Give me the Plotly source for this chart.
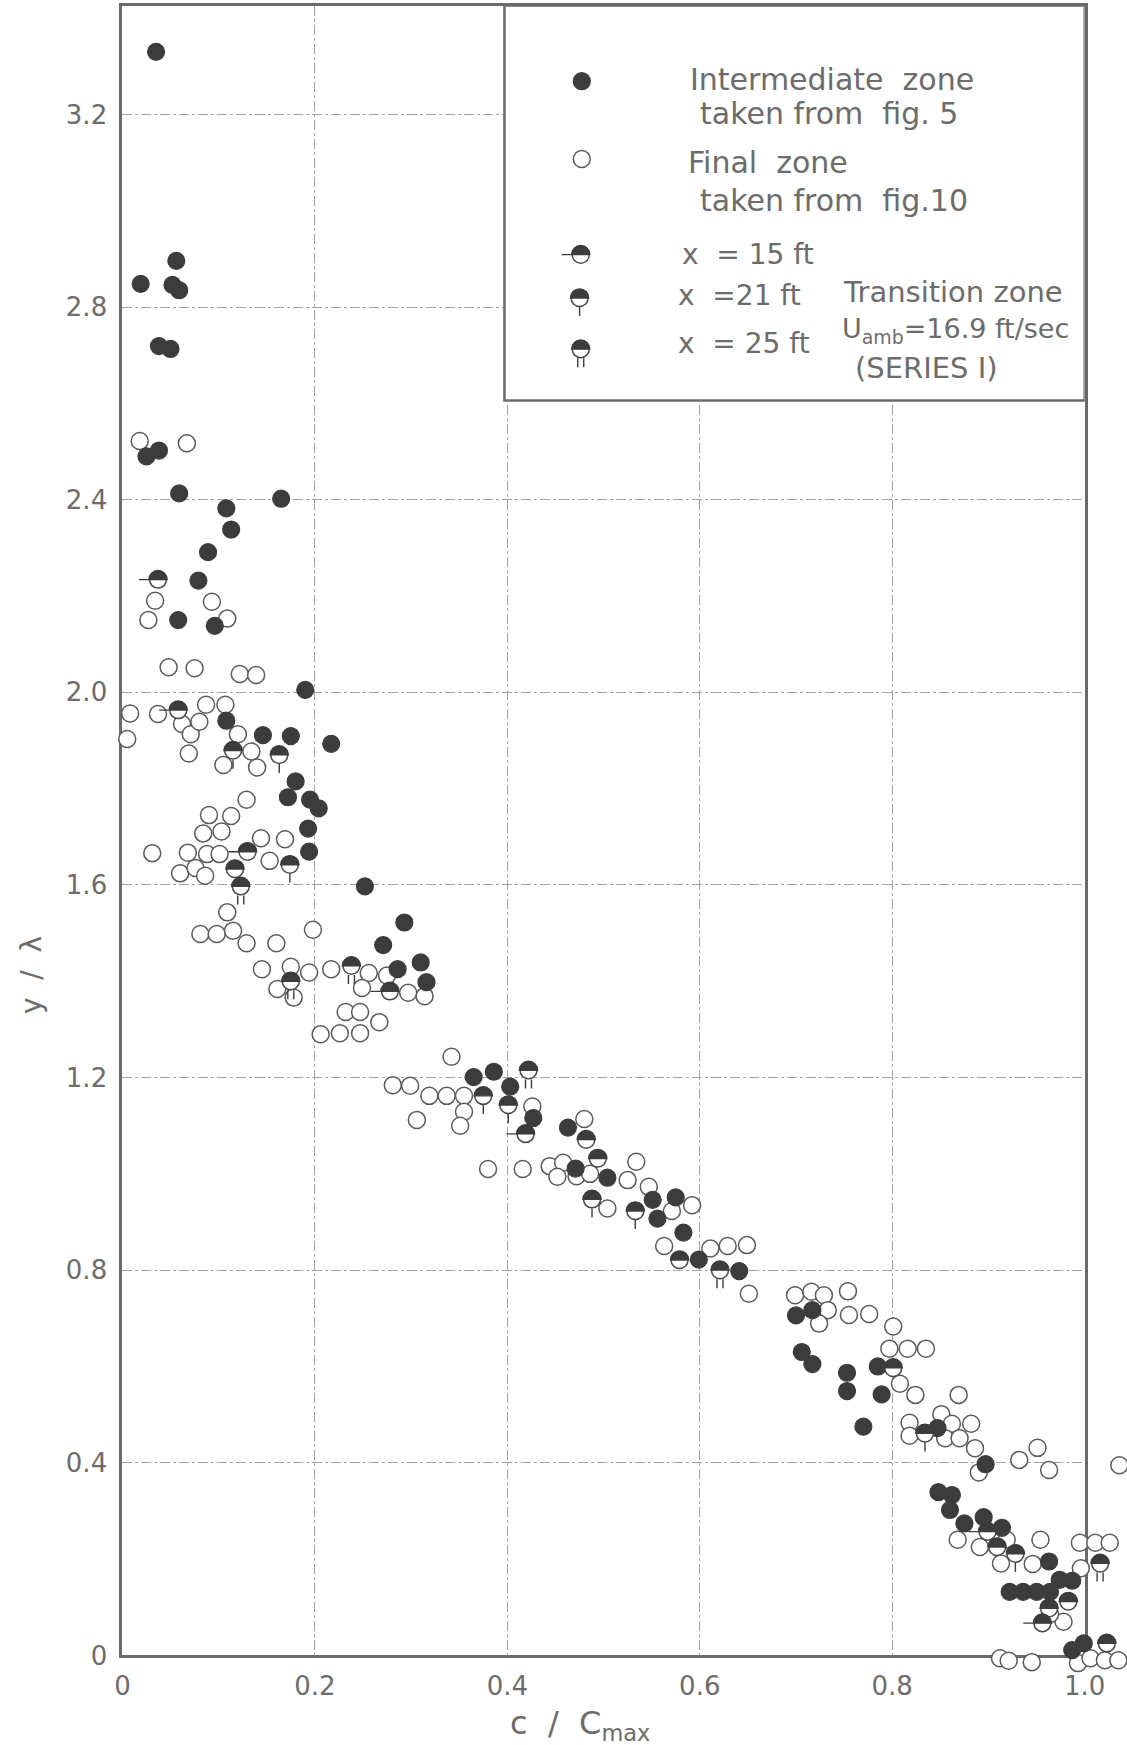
import plotly.graph_objects as go

# ------------------------------------------------------------------ data
# Intermediate zone (taken from fig. 5) -- filled circles
intermediate_x = [0.035, 0.019, 0.056, 0.052, 0.059, 0.038, 0.050, 0.025, 0.038, 0.059,
                  0.108, 0.165, 0.113, 0.089, 0.079, 0.058, 0.096, 0.190, 0.108, 0.146,
                  0.175, 0.217, 0.180, 0.172, 0.195, 0.204, 0.193, 0.194, 0.252, 0.293,
                  0.271, 0.286, 0.310, 0.316, 0.365, 0.386, 0.403, 0.427, 0.463, 0.471,
                  0.504, 0.551, 0.575, 0.556, 0.583, 0.599, 0.641, 0.700, 0.717, 0.706,
                  0.717, 0.753, 0.753, 0.770, 0.785, 0.789, 0.847, 0.897, 0.848, 0.862,
                  0.860, 0.875, 0.895, 0.914, 0.963, 0.922, 0.936, 0.950, 0.964, 0.974,
                  0.987, 0.987, 0.999]
intermediate_y = [3.330, 2.848, 2.896, 2.846, 2.835, 2.719, 2.713, 2.490, 2.502, 2.413,
                  2.382, 2.402, 2.338, 2.291, 2.232, 2.150, 2.138, 2.005, 1.941, 1.911,
                  1.909, 1.893, 1.815, 1.782, 1.777, 1.759, 1.717, 1.669, 1.597, 1.522,
                  1.475, 1.425, 1.439, 1.398, 1.201, 1.212, 1.181, 1.116, 1.096, 1.011,
                  0.992, 0.946, 0.951, 0.907, 0.878, 0.822, 0.798, 0.706, 0.717, 0.630,
                  0.605, 0.587, 0.549, 0.475, 0.600, 0.542, 0.472, 0.397, 0.339, 0.333,
                  0.302, 0.274, 0.287, 0.265, 0.195, 0.132, 0.132, 0.132, 0.132, 0.157,
                  0.155, 0.011, 0.025]

# Final zone (taken from fig. 10) -- open circles
final_x = [0.018, 0.067, 0.034, 0.027, 0.093, 0.109, 0.048, 0.075, 0.122, 0.139,
           0.008, 0.005, 0.037, 0.062, 0.071, 0.080, 0.087, 0.107, 0.120, 0.069,
           0.134, 0.105, 0.140, 0.129, 0.090, 0.113, 0.084, 0.103, 0.144, 0.169,
           0.031, 0.068, 0.088, 0.101, 0.153, 0.060, 0.076, 0.086, 0.109, 0.081,
           0.098, 0.115, 0.129, 0.160, 0.198, 0.145, 0.175, 0.194, 0.217, 0.256,
           0.275, 0.161, 0.178, 0.249, 0.297, 0.314, 0.232, 0.247, 0.267, 0.206,
           0.226, 0.247, 0.342, 0.281, 0.299, 0.319, 0.337, 0.355, 0.355, 0.351,
           0.306, 0.426, 0.480, 0.380, 0.416, 0.444, 0.458, 0.452, 0.472, 0.486,
           0.525, 0.534, 0.547, 0.571, 0.592, 0.504, 0.563, 0.611, 0.629, 0.649,
           0.651, 0.699, 0.716, 0.729, 0.754, 0.733, 0.755, 0.776, 0.724, 0.801,
           0.797, 0.816, 0.835, 0.808, 0.824, 0.869, 0.818, 0.818, 0.851, 0.862,
           0.855, 0.870, 0.882, 0.886, 0.890, 0.932, 0.951, 0.963, 1.036, 0.868,
           0.891, 0.919, 0.913, 0.946, 0.954, 0.995, 1.011, 1.026, 0.996, 0.978,
           0.964, 0.912, 0.921, 0.945, 0.993, 1.006, 1.021, 1.035]
final_y = [2.522, 2.517, 2.190, 2.150, 2.188, 2.153, 2.052, 2.050, 2.038, 2.036,
           1.956, 1.903, 1.955, 1.934, 1.913, 1.939, 1.974, 1.974, 1.913, 1.873,
           1.877, 1.849, 1.844, 1.777, 1.745, 1.743, 1.707, 1.711, 1.697, 1.695,
           1.666, 1.667, 1.664, 1.664, 1.650, 1.624, 1.635, 1.619, 1.543, 1.498,
           1.498, 1.505, 1.479, 1.479, 1.507, 1.425, 1.430, 1.418, 1.425, 1.417,
           1.412, 1.384, 1.366, 1.386, 1.376, 1.369, 1.336, 1.336, 1.315, 1.290,
           1.292, 1.292, 1.243, 1.184, 1.183, 1.162, 1.162, 1.162, 1.129, 1.100,
           1.112, 1.140, 1.114, 1.010, 1.010, 1.016, 1.023, 0.994, 0.995, 1.000,
           0.987, 1.025, 0.973, 0.923, 0.935, 0.928, 0.850, 0.845, 0.850, 0.852,
           0.751, 0.748, 0.755, 0.748, 0.756, 0.717, 0.707, 0.709, 0.689, 0.683,
           0.637, 0.637, 0.637, 0.564, 0.541, 0.541, 0.483, 0.456, 0.501, 0.481,
           0.451, 0.451, 0.481, 0.430, 0.380, 0.406, 0.431, 0.385, 0.395, 0.240,
           0.225, 0.240, 0.191, 0.190, 0.240, 0.234, 0.234, 0.234, 0.181, 0.070,
           0.086, -0.006, -0.011, -0.014, -0.016, -0.006, -0.010, -0.010]

# Transition zone, U_amb = 16.9 ft/sec (Series I) -- half-filled circles
trans15_x = [0.037, 0.058, 0.130, 0.278, 0.419, 0.801, 0.899, 0.956]   # x = 15 ft
trans15_y = [2.234, 1.963, 1.669, 1.379, 1.083, 0.597, 0.257, 0.067]
trans21_x = [0.115, 0.163, 0.174, 0.375, 0.401, 0.488, 0.533, 0.834, 0.928]  # x = 21 ft
trans21_y = [1.879, 1.870, 1.642, 1.162, 1.143, 0.947, 0.923, 0.461, 0.211]
trans25_x = [0.123, 0.175, 0.238, 0.422, 0.621, 1.016]   # x = 25 ft
trans25_y = [1.597, 1.400, 1.432, 1.215, 0.800, 0.191]
# transition points whose station tag is hidden by neighbouring symbols
trans_unmarked_x = [0.117, 0.482, 0.494, 0.579, 0.909, 0.963, 0.983, 1.023]
trans_unmarked_y = [1.633, 1.071, 1.032, 0.821, 0.225, 0.098, 0.112, 0.025]

x_tickvals = [0, 0.2, 0.4, 0.6, 0.8, 1.0]
x_ticktext = ["0", "0.2", "0.4", "0.6", "0.8", "1.0"]
y_tickvals = [0, 0.4, 0.8, 1.2, 1.6, 2.0, 2.4, 2.8, 3.2]
y_ticktext = ["0", "0.4", "0.8", "1.2", "1.6", "2.0", "2.4", "2.8", "3.2"]

# ------------------------------------------------------------------ geometry / style
W, H = 1127, 1745
X_RANGE = [0.0, 1.0]
Y_RANGE = [0.0, 3.426]
X_DOM = [122.4 / W, 1084.7 / W]
Y_DOM = [(H - 1655.4) / H, (H - 5.6) / H]


def outer_range(rng, dom):
    span = (rng[1] - rng[0]) / (dom[1] - dom[0])
    return [rng[0] - dom[0] * span, rng[1] + (1 - dom[1]) * span]


X2_RANGE = outer_range(X_RANGE, X_DOM)
Y2_RANGE = outer_range(Y_RANGE, Y_DOM)

FONT = "DejaVu Sans"
TXT = "#6c6c6c"
DARK = "#3c3c3c"
OUTL = "#5a5a5a"
GRID = "#a2a2a2"
FRAME = "#6a6a6a"
MSIZE = 17
R = 9.1


def half_path(tag):
    k = 0.5523 * R
    p = (f"M {-R:.2f} 0 C {-R:.2f} {k:.2f} {-k:.2f} {R:.2f} 0 {R:.2f} "
         f"C {k:.2f} {R:.2f} {R:.2f} {k:.2f} {R:.2f} 0 Z")
    if tag == "15":
        p += f" M {-R - 10:.2f} 0 L {-R:.2f} 0"
    elif tag == "21":
        p += f" M 0 {-R:.2f} L 0 {-R - 9:.2f}"
    elif tag == "25":
        p += f" M -3 {-R:.2f} L -3 {-R - 9:.2f} M 3 {-R:.2f} L 3 {-R - 9:.2f}"
    return p


fig = go.Figure()

open_marker = dict(symbol="circle", size=MSIZE, color="white", line=dict(color=OUTL, width=1.5))
filled_marker = dict(symbol="circle", size=MSIZE, color=DARK, line=dict(color=DARK, width=1.2))
half_marker = dict(symbol="circle", size=MSIZE, color="white", line=dict(color="#4a4a4a", width=1.5))

shapes = []

# ------------------------------------------------------------------ legend box (inside the frame)
LEG_BOX = dict(x0=0.397, x1=1.0, y0=2.606, y1=Y_RANGE[1])
shapes.append(dict(type="rect", xref="x", yref="y", **LEG_BOX, fillcolor="white",
                   line=dict(color=FRAME, width=2.5), layer="between"))

# legend keys live on the framed axes (this also makes the framed subplot exist)
leg_keys_x = [0.4774, 0.4774]
leg_keys_y = [3.269, 3.1075]
fig.add_trace(go.Scatter(x=leg_keys_x[:1], y=leg_keys_y[:1], mode="markers", marker=filled_marker,
                         xaxis="x", yaxis="y", cliponaxis=False, hoverinfo="skip"))
fig.add_trace(go.Scatter(x=leg_keys_x[1:], y=leg_keys_y[1:], mode="markers", marker=open_marker,
                         xaxis="x", yaxis="y", cliponaxis=False, hoverinfo="skip"))
leg_half = [("15", 0.4763, 2.9088), ("21", 0.4751, 2.8188), ("25", 0.4763, 2.7126)]
fig.add_trace(go.Scatter(x=[k[1] for k in leg_half], y=[k[2] for k in leg_half], mode="markers",
                         marker=half_marker, xaxis="x", yaxis="y", cliponaxis=False,
                         hoverinfo="skip"))
for tag, xv, yv in leg_half:
    shapes.append(dict(type="path", xref="x2", yref="y2", xsizemode="pixel", ysizemode="pixel",
                       xanchor=xv, yanchor=yv, path=half_path(tag), fillcolor=DARK,
                       line=dict(color=DARK, width=1.4), layer="above"))

# ------------------------------------------------------------------ data marks (unclipped overlay axes)
fig.add_trace(go.Scatter(x=final_x, y=final_y, mode="markers", marker=open_marker,
                         xaxis="x2", yaxis="y2", name="Final zone", hoverinfo="x+y"))
fig.add_trace(go.Scatter(x=intermediate_x, y=intermediate_y, mode="markers", marker=filled_marker,
                         xaxis="x2", yaxis="y2", name="Intermediate zone", hoverinfo="x+y"))

half_sets = [("15", trans15_x, trans15_y), ("21", trans21_x, trans21_y),
             ("25", trans25_x, trans25_y), ("", trans_unmarked_x, trans_unmarked_y)]
for tag, xs, ys in half_sets:
    fig.add_trace(go.Scatter(x=xs, y=ys, mode="markers", marker=half_marker,
                             xaxis="x2", yaxis="y2", name=f"x = {tag} ft", hoverinfo="x+y"))
    for xv, yv in zip(xs, ys):
        shapes.append(dict(type="path", xref="x2", yref="y2", xsizemode="pixel",
                           ysizemode="pixel", xanchor=xv, yanchor=yv, path=half_path(tag),
                           fillcolor=DARK, line=dict(color=DARK, width=1.4), layer="above"))

NB = "\u00a0"
legend_texts = [
    ("Intermediate" + NB * 2 + "zone", 688, 79, 30),
    ("taken" + NB + "from" + NB * 2 + "fig." + NB + "5", 698, 113, 30),
    ("Final" + NB * 2 + "zone", 686, 163, 30),
    ("taken" + NB + "from" + NB * 2 + "fig.10", 698, 200, 30),
    ("x" + NB * 2 + "=" + NB + "15 ft", 680, 254, 28),
    ("x" + NB * 2 + "=21 ft", 676, 296, 28),
    ("x" + NB * 2 + "=" + NB + "25 ft", 676, 344, 28),
    ("Transition zone", 841, 292, 29),
    ("U<sub>amb</sub>=16.9 ft/sec", 840, 331, 27),
    ("(SERIES" + NB + "I)", 853, 368, 29),
]
annotations = []
for txt, px, py, fs in legend_texts:
    annotations.append(dict(text=txt, x=px / W, y=1 - py / H, xref="paper", yref="paper",
                            xanchor="left", yanchor="middle", showarrow=False,
                            font=dict(family=FONT, size=fs, color=TXT)))

# axis titles
annotations.append(dict(text="y" + NB * 2 + "/" + NB * 2 + "λ", x=31 / W, y=1 - 975 / H,
                        xref="paper", yref="paper", textangle=-90, showarrow=False,
                        xanchor="center", yanchor="middle",
                        font=dict(family=FONT, size=28, color=TXT)))
annotations.append(dict(text="c" + NB * 2 + "/" + NB * 2 + "C<sub>max</sub>", x=580 / W,
                        y=1 - 1725 / H, xref="paper", yref="paper", showarrow=False,
                        xanchor="center", yanchor="middle",
                        font=dict(family=FONT, size=32, color=TXT)))

axis_common = dict(showgrid=True, gridcolor=GRID, gridwidth=1, griddash="10px,3px,3px,3px",
                   showline=True, mirror=True, linecolor=FRAME, linewidth=3, zeroline=False,
                   ticks="", tickfont=dict(family=FONT, size=26, color=TXT), fixedrange=True)

fig.update_layout(
    width=W, height=H, template="none",
    margin=dict(l=0, r=0, t=0, b=0, pad=0),
    paper_bgcolor="white", plot_bgcolor="rgba(0,0,0,0)", showlegend=False,
    font=dict(family=FONT, color=TXT),
    xaxis=dict(domain=X_DOM, range=X_RANGE, tickmode="array", tickvals=x_tickvals,
               ticktext=x_ticktext, anchor="y", ticklabelstandoff=5, **axis_common),
    yaxis=dict(domain=Y_DOM, range=Y_RANGE, tickmode="array", tickvals=y_tickvals,
               ticktext=y_ticktext, anchor="x", ticklabelstandoff=7, **axis_common),
    xaxis2=dict(domain=[0, 1], range=X2_RANGE, visible=False, anchor="y2", fixedrange=True),
    yaxis2=dict(domain=[0, 1], range=Y2_RANGE, visible=False, anchor="x2", fixedrange=True),
    shapes=shapes,
    annotations=annotations,
)

fig.write_html("out.html")
